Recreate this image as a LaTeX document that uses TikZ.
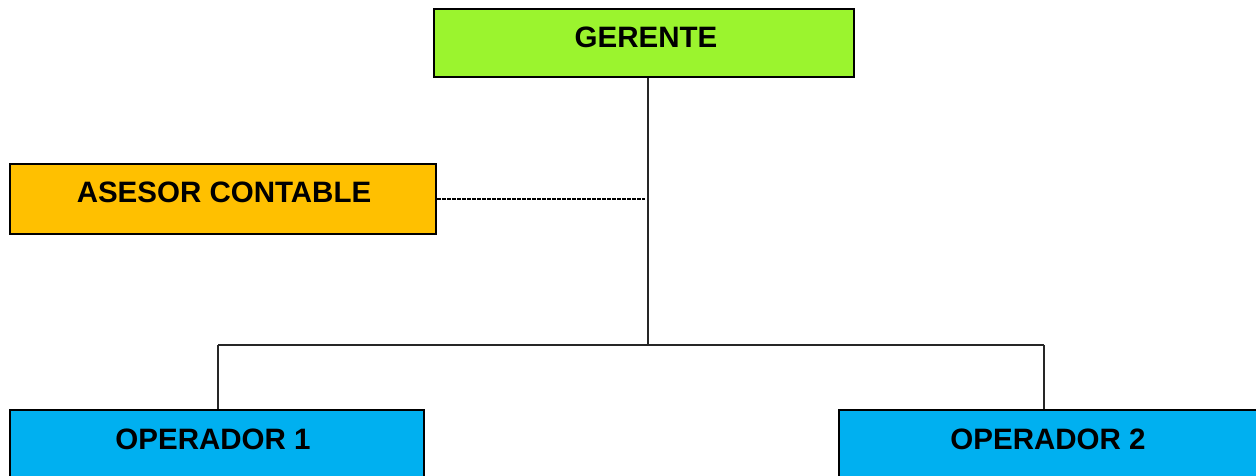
\documentclass[tikz,border=0pt]{standalone}
\usepackage{fontspec}
\setmainfont{Liberation Sans}
\definecolor{cgreen}{HTML}{9BF42E}
\definecolor{corange}{HTML}{FFC000}
\definecolor{cblue}{HTML}{00B0F0}
\begin{document}
\begin{tikzpicture}[x=1pt,y=-1pt,
  box/.style={draw=black,line width=2.5pt,rectangle,inner sep=0pt},
  lbl/.style={font=\fontsize{29.5}{31}\selectfont\bfseries,inner sep=0pt},
  conn/.style={line width=1.4pt,draw=black!85}]
\useasboundingbox (0,0) rectangle (1256,476);
\node[box,fill=cgreen,minimum width=420pt,minimum height=68pt] (g) at (644,43) {};
\node[lbl] (gt) at (646,37) {GERENTE};
\node[box,fill=corange,minimum width=426pt,minimum height=70pt] (a) at (223,199) {};
\node[lbl] (at) at (224,192) {ASESOR CONTABLE};
\node[box,fill=cblue,minimum width=414pt,minimum height=80pt] (o1) at (217,450) {};
\node[lbl] (o1t) at (213,439) {OPERADOR 1};
\node[box,fill=cblue,minimum width=418pt,minimum height=80pt] (o2) at (1048,450) {};
\node[lbl] (o2t) at (1048,439) {OPERADOR 2};
\coordinate (j) at (648,345);
\coordinate (d) at (645,199);
\coordinate (l) at (218,345);
\coordinate (r) at (1044,345);
\draw[conn] (g.south -| j) -- (j);
\draw[conn] (l) -- (r);
\draw[conn] (l) -- (o1.north -| l);
\draw[conn] (r) -- (o2.north -| r);
\draw[line width=1.2pt,dash pattern=on 3.5pt off 1.5pt] (a.east) -- (d);
\end{tikzpicture}
\end{document}
